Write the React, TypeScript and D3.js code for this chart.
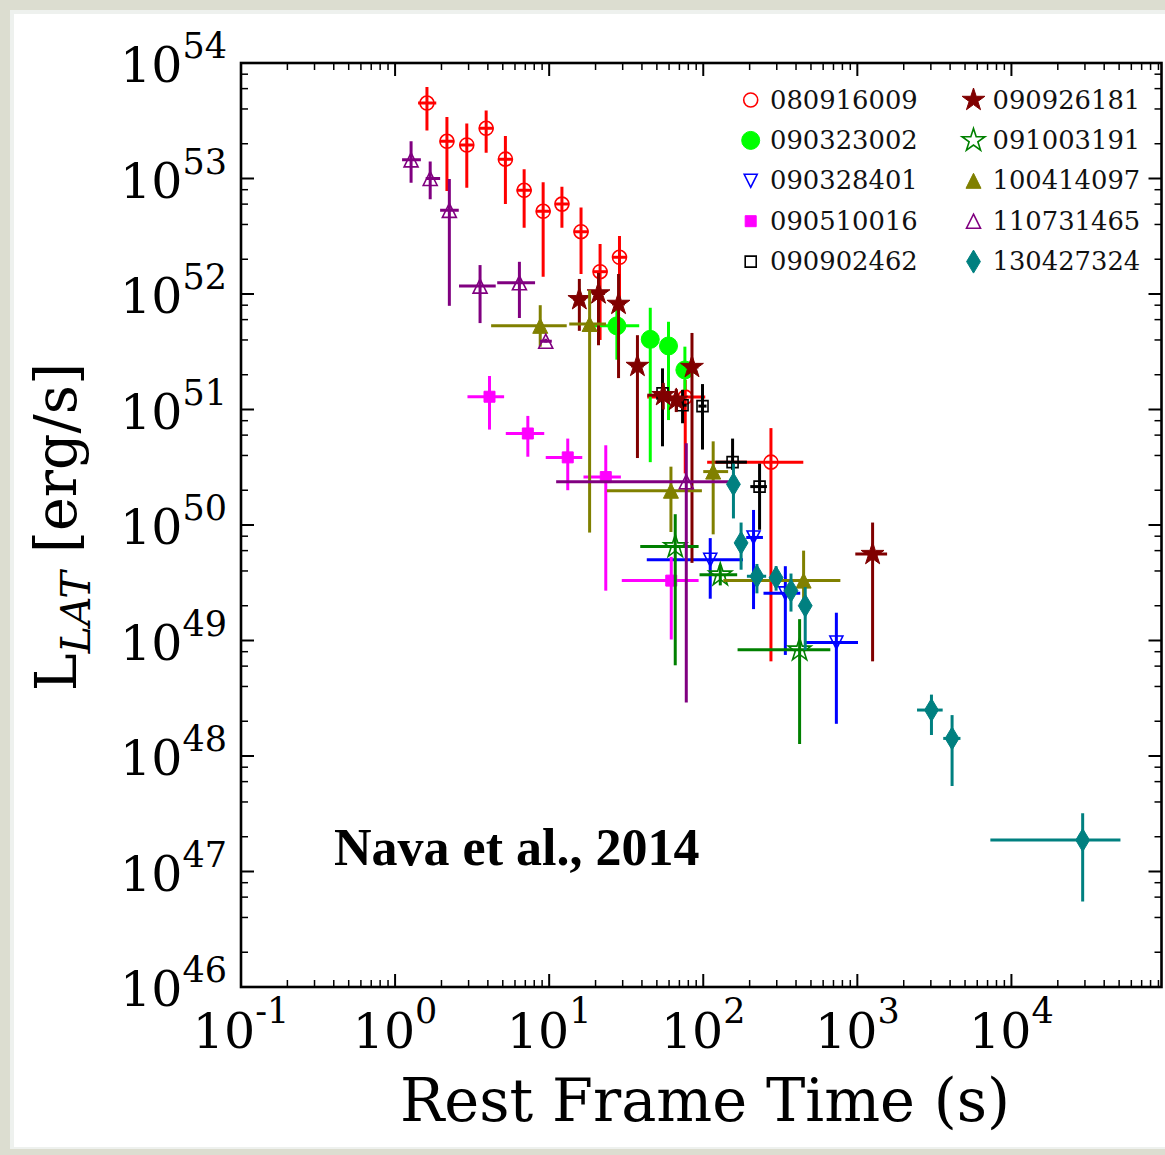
import { useEffect, useRef } from 'react';
import * as d3 from 'd3';

const W = 1165;
const H = 1155;
const PLOT = { left: 241, right: 1161.5, top: 63, bottom: 987 };

// axis ranges and tick labels (exponents of ten)
const X_DOMAIN = [0.1, Math.pow(10, 4.974)];
const Y_DOMAIN = [1e46, 1e54];
const X_TICK_EXP = ['-1', '0', '1', '2', '3', '4'];
const Y_TICK_EXP = ['46', '47', '48', '49', '50', '51', '52', '53', '54'];

// each row: [t, tLo, tHi, L, LLo, LHi]  (rest frame time in s, L_LAT in erg/s)
const grb080916009 = [
    [1.61, 1.41, 1.85, 4.5e53, 2.6e53, 6.2e53],
    [2.17, 1.95, 2.42, 2.1e53, 7.8e52, 3.4e53],
    [2.92, 2.62, 3.25, 1.95e53, 8.3e52, 3.0e53],
    [3.9, 3.5, 4.35, 2.72e53, 1.67e53, 3.87e53],
    [5.2, 4.65, 5.8, 1.47e53, 6.0e52, 2.33e53],
    [6.88, 6.15, 7.7, 7.9e52, 3.75e52, 1.2e53],
    [9.14, 8.2, 10.2, 5.2e52, 1.41e52, 9.3e52],
    [12.1, 10.9, 13.5, 6.0e52, 3.75e52, 8.5e52],
    [16.1, 14.4, 18.0, 3.46e52, 1.49e52, 5.6e52],
    [21.4, 19.2, 23.9, 1.56e52, 4.0e51, 2.71e52],
    [28.6, 25.6, 31.9, 2.08e52, 8.0e51, 3.18e52],
    [76.4, 43.3, 103, 1.28e51, 2.8e50, 1.8e51],
    [275, 106, 446, 3.5e50, 6.6e48, 6.9e50],
];
const grb090323002 = [
    [27.5, 17.1, 38.4, 5.3e51, 2.7e51, 8.0e51],
    [45.3, 43.5, 47.2, 4.05e51, 3.5e50, 7.6e51],
    [59.5, 57.2, 61.9, 3.55e51, 8.1e50, 5.75e51],
    [76, 73, 79, 2.2e51, 1.48e51, 3.5e51],
];
const grb090328401 = [
    [111, 43, 181, 5.0e49, 2.3e49, 7.7e49],
    [212, 190, 244, 7.8e49, 1.87e49, 1.35e50],
    [341, 246, 426, 2.56e49, 7.5e48, 4.4e49],
    [731, 459, 1010, 9.6e48, 1.9e48, 1.74e49],
];
const grb090510016 = [
    [4.1, 2.95, 5.1, 1.29e51, 6.7e50, 1.95e51],
    [7.27, 5.23, 9.29, 6.2e50, 3.9e50, 8.8e50],
    [13.2, 9.5, 16.4, 3.85e50, 2.0e50, 5.6e50],
    [23.3, 16.7, 29.2, 2.6e50, 2.7e49, 4.9e50],
    [62, 29.6, 93.3, 3.3e49, 1.02e49, 5.3e49],
];
const grb090902462 = [
    [54.4, 49.5, 59.3, 1.38e51, 4.8e50, 2.27e51],
    [73.4, 69, 78, 1.09e51, 7.6e50, 1.48e51],
    [98.9, 93, 105, 1.07e51, 4.5e50, 1.66e51],
    [155, 120, 192, 3.5e50, 3.0e50, 5.6e50],
    [232, 202, 259, 2.15e50, 9.1e49, 3.4e50],
];
const grb090926181 = [
    [15.7, 14.3, 17.2, 9.0e51, 4.8e51, 1.35e52],
    [20.9, 19.0, 23.0, 1.01e52, 3.6e51, 1.52e52],
    [28.2, 25.6, 31.0, 8.2e51, 1.87e51, 1.49e52],
    [37.4, 34.0, 41.0, 2.38e51, 3.8e50, 4.4e51],
    [55, 43.3, 62, 1.33e51, 1.0e51, 1.7e51],
    [66.8, 60, 74.1, 1.21e51, 9.5e50, 1.5e51],
    [84.5, 77, 93, 2.33e51, 4.7e49, 4.6e51],
    [1256, 970, 1560, 5.6e49, 6.6e48, 1.05e50],
];
const grb091003191 = [
    [65.8, 39, 93.3, 6.5e49, 6.1e48, 1.24e50],
    [129, 94.6, 166, 3.7e49, 3.0e49, 4.5e49],
    [422, 167, 668, 8.3e48, 1.27e48, 1.53e49],
];
const grb100414097 = [
    [8.75, 4.2, 13.0, 5.3e51, 3.5e51, 8.0e51],
    [18.3, 13.5, 23.4, 5.5e51, 8.6e49, 1.08e52],
    [61.7, 23.7, 98, 1.98e50, 8.7e49, 3.2e50],
    [116, 100, 145, 2.9e50, 8.3e49, 5.3e50],
    [448, 135, 776, 3.3e49, 2.2e49, 6.0e49],
];
const grb110731465 = [
    [1.27, 1.11, 1.47, 1.45e53, 9.2e52, 2.1e53],
    [1.69, 1.58, 1.96, 1.0e53, 6.6e52, 1.4e53],
    [2.25, 1.96, 2.59, 5.3e52, 7.9e51, 9.9e52],
    [3.56, 2.6, 4.5, 1.17e52, 5.6e51, 1.78e52],
    [6.41, 4.6, 8.1, 1.25e52, 6.2e51, 1.9e52],
    [9.5, 8.7, 10.4, 3.9e51, 3.8e51, 4.1e51],
    [77.6, 11.1, 146, 2.37e50, 2.9e48, 5.1e50],
];
const grb130427324 = [
    [157, 148, 167, 2.25e50, 1.14e50, 3.4e50],
    [176, 168, 185, 7.0e49, 4.1e49, 1.05e50],
    [223, 192, 256, 3.6e49, 2.56e49, 4.6e49],
    [297, 285, 310, 3.5e49, 2.7e49, 4.4e49],
    [371, 355, 388, 2.7e49, 1.78e49, 3.8e49],
    [459, 440, 480, 2.0e49, 8.3e48, 2.9e49],
    [3027, 2440, 3580, 2.5e48, 1.52e48, 3.4e48],
    [4120, 3610, 4670, 1.42e48, 5.5e47, 2.26e48],
    [29000, 7300, 51000, 1.87e47, 5.5e46, 3.2e47],
];

const SERIES = [
    { name: '080916009', rows: grb080916009, color: '#ff0000', shape: 'circle', size: 7, filled: false },
    { name: '090323002', rows: grb090323002, color: '#00ff00', shape: 'circle', size: 9, filled: true },
    { name: '090328401', rows: grb090328401, color: '#0000ff', shape: 'triDown', size: 6.5, filled: false },
    { name: '090510016', rows: grb090510016, color: '#ff00ff', shape: 'square', size: 5.5, filled: true },
    { name: '090902462', rows: grb090902462, color: '#000000', shape: 'square', size: 5.5, filled: false },
    { name: '090926181', rows: grb090926181, color: '#800000', shape: 'star', size: 12, filled: true },
    { name: '091003191', rows: grb091003191, color: '#008000', shape: 'star', size: 12, filled: false },
    { name: '100414097', rows: grb100414097, color: '#808000', shape: 'triUp', size: 7.5, filled: true },
    { name: '110731465', rows: grb110731465, color: '#800080', shape: 'triUp', size: 7, filled: false },
    { name: '130427324', rows: grb130427324, color: '#008080', shape: 'diamond', size: 11.5, filled: true },
];

function markerPath(shape: string, s: number): string {
    const p = d3.path();
    if (shape === 'circle') {
        p.moveTo(s, 0);
        p.arc(0, 0, s, 0, 2 * Math.PI);
    } else if (shape === 'square') {
        p.rect(-s, -s, 2 * s, 2 * s);
    } else if (shape === 'triUp') {
        p.moveTo(0, -s); p.lineTo(s, s); p.lineTo(-s, s);
    } else if (shape === 'triDown') {
        p.moveTo(0, s); p.lineTo(s, -s); p.lineTo(-s, -s);
    } else if (shape === 'diamond') {
        p.moveTo(0, -s); p.lineTo(s * 0.6, 0); p.lineTo(0, s); p.lineTo(-s * 0.6, 0);
    } else if (shape === 'star') {
        for (let i = 0; i < 10; i++) {
            const a = -Math.PI / 2 + (i * Math.PI) / 5;
            const r = i % 2 === 0 ? s : s * 0.381966;
            if (i === 0) p.moveTo(r * Math.cos(a), r * Math.sin(a));
            else p.lineTo(r * Math.cos(a), r * Math.sin(a));
        }
    }
    p.closePath();
    return p.toString();
}

const SERIF = "'DejaVu Serif', serif";

export default function App() {
    const svgRef = useRef<SVGSVGElement | null>(null);

    useEffect(() => {
        if (!svgRef.current) return;
        const svg = d3.select(svgRef.current);
        svg.selectAll('*').remove();

        // paper frame around the white page
        svg.append('rect').attr('width', W).attr('height', H).attr('fill', '#dcddd0');
        svg.append('rect').attr('x', 10).attr('y', 10).attr('width', W - 10).attr('height', H - 16).attr('fill', '#eef1ee');
        svg.append('rect').attr('x', 14).attr('y', 14).attr('width', W - 14).attr('height', H - 22).attr('fill', '#ffffff');

        const x = d3.scaleLog().domain(X_DOMAIN).range([PLOT.left, PLOT.right]);
        const y = d3.scaleLog().domain(Y_DOMAIN).range([PLOT.bottom, PLOT.top]);

        svg.append('defs').append('clipPath').attr('id', 'plot-clip')
            .append('rect')
            .attr('x', PLOT.left).attr('y', PLOT.top)
            .attr('width', PLOT.right - PLOT.left).attr('height', PLOT.bottom - PLOT.top);

        const data = svg.append('g').attr('clip-path', 'url(#plot-clip)');

        // error bars + markers, one series after another
        SERIES.forEach(s => {
            const g = data.append('g');
            s.rows.forEach(r => {
                const [t, tLo, tHi, L, LLo, LHi] = r;
                g.append('line')
                    .attr('x1', x(tLo)).attr('x2', x(tHi))
                    .attr('y1', y(L)).attr('y2', y(L))
                    .attr('stroke', s.color).attr('stroke-width', 3);
                g.append('line')
                    .attr('x1', x(t)).attr('x2', x(t))
                    .attr('y1', y(LLo)).attr('y2', y(LHi))
                    .attr('stroke', s.color).attr('stroke-width', 3);
            });
            g.selectAll('path.mk')
                .data(s.rows)
                .join('path')
                .attr('class', 'mk')
                .attr('transform', r => `translate(${x(r[0])},${y(r[3])})`)
                .attr('d', markerPath(s.shape, s.size))
                .attr('fill', s.filled ? s.color : 'none')
                .attr('stroke', s.color)
                .attr('stroke-width', s.filled ? 1 : 1.6);
        });

        // ticks on all four sides, pointing inwards
        const ax = svg.append('g').attr('stroke', '#000');
        const [x0, x1] = X_DOMAIN;
        const [y0, y1] = Y_DOMAIN;
        const xTicks: { v: number; major: boolean }[] = [];
        for (let e = -1; e <= 5; e++) {
            for (let m = 1; m <= 9; m++) {
                const v = m * Math.pow(10, e);
                if (v >= x0 * 0.999 && v <= x1) xTicks.push({ v, major: m === 1 });
            }
        }
        const yTicks: { v: number; major: boolean }[] = [];
        for (let e = 46; e <= 54; e++) {
            for (const m of [1, 2, 4, 6, 8]) {
                const v = m * Math.pow(10, e);
                if (v >= y0 * 0.999 && v <= y1 * 1.001) yTicks.push({ v, major: m === 1 });
            }
        }
        xTicks.forEach(tk => {
            const len = tk.major ? 13 : 7;
            const sw = tk.major ? 2 : 1.5;
            const px = x(tk.v);
            ax.append('line').attr('x1', px).attr('x2', px)
                .attr('y1', PLOT.bottom).attr('y2', PLOT.bottom - len).attr('stroke-width', sw);
            ax.append('line').attr('x1', px).attr('x2', px)
                .attr('y1', PLOT.top).attr('y2', PLOT.top + len).attr('stroke-width', sw);
        });
        yTicks.forEach(tk => {
            const len = tk.major ? 13 : 7;
            const sw = tk.major ? 2 : 1.5;
            const py = y(tk.v);
            ax.append('line').attr('x1', PLOT.left).attr('x2', PLOT.left + len)
                .attr('y1', py).attr('y2', py).attr('stroke-width', sw);
            ax.append('line').attr('x1', PLOT.right).attr('x2', PLOT.right - len)
                .attr('y1', py).attr('y2', py).attr('stroke-width', sw);
        });

        svg.append('rect')
            .attr('x', PLOT.left).attr('y', PLOT.top)
            .attr('width', PLOT.right - PLOT.left).attr('height', PLOT.bottom - PLOT.top)
            .attr('fill', 'none').attr('stroke', '#000').attr('stroke-width', 2.6);

        // tick labels
        X_TICK_EXP.forEach(ex => {
            const t = svg.append('text')
                .attr('x', x(Math.pow(10, +ex))).attr('y', 1048)
                .attr('text-anchor', 'middle')
                .style('font-family', SERIF).style('font-size', '49px').style('fill', '#000');
            t.append('tspan').text('10');
            t.append('tspan').attr('dy', -25).style('font-size', '35px').text(ex);
        });
        Y_TICK_EXP.forEach(ex => {
            const t = svg.append('text')
                .attr('x', 227).attr('y', y(Math.pow(10, +ex)) + 19)
                .attr('text-anchor', 'end')
                .style('font-family', SERIF).style('font-size', '49px').style('fill', '#000');
            t.append('tspan').text('10');
            t.append('tspan').attr('dy', -24).style('font-size', '35px').text(ex);
        });

        // axis titles
        svg.append('text')
            .attr('x', 705).attr('y', 1121)
            .attr('text-anchor', 'middle')
            .style('font-family', SERIF).style('font-size', '59px').style('fill', '#000')
            .text('Rest Frame Time (s)');

        const yt = svg.append('text')
            .attr('transform', 'translate(76,527) rotate(-90)')
            .attr('text-anchor', 'middle')
            .style('font-family', SERIF).style('font-size', '57px').style('fill', '#000');
        yt.append('tspan').text('L');
        yt.append('tspan').attr('dy', 14).style('font-style', 'italic').style('font-size', '41px').text('LAT');
        yt.append('tspan').attr('dy', -14).text(' [erg/s]');

        // legend, two columns of five
        SERIES.forEach((s, i) => {
            const col = Math.floor(i / 5);
            const row = i % 5;
            const cy = 100 + row * 40.4;
            const mx = col === 0 ? 750.7 : 973.5;
            const tx = col === 0 ? 770 : 992.5;
            svg.append('path')
                .attr('transform', `translate(${mx},${cy})`)
                .attr('d', markerPath(s.shape, s.size))
                .attr('fill', s.filled ? s.color : 'none')
                .attr('stroke', s.color)
                .attr('stroke-width', s.filled ? 1 : 1.6);
            svg.append('text')
                .attr('x', tx).attr('y', cy + 8.5)
                .style('font-family', SERIF).style('font-size', '25.8px').style('fill', '#111')
                .text(s.name);
        });

        svg.append('text')
            .attr('x', 334).attr('y', 865)
            .style('font-family', "'Liberation Serif', serif").style('font-weight', 'bold')
            .style('font-size', '52px').style('fill', '#000')
            .text('Nava et al., 2014');
    }, []);

    return (
        <svg ref={svgRef} width={W} height={H}
            style={{ position: 'absolute', left: 0, top: 0, display: 'block' }} />
    );
}
